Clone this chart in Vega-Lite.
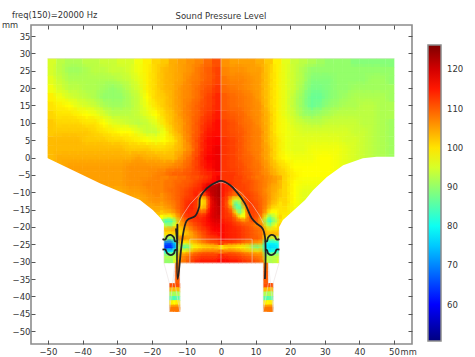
{"$schema":"https://vega.github.io/schema/vega-lite/v6.json","width":381,"height":319,"autosize":{"type":"none"},"padding":{"left":31,"top":25,"right":63,"bottom":13},"background":"white","view":{"stroke":"#8c8c8c","strokeWidth":1.6},"config":{"font":"DejaVu Sans"},"datasets":{"coarse":[
{"x":-48.8,"y":27.3,"v":95},{"x":-46.3,"y":27.3,"v":93},{"x":-43.8,"y":27.3,"v":92},{"x":-41.3,"y":27.3,"v":92},{"x":-38.8,"y":27.3,"v":93},{"x":-36.3,"y":27.3,"v":93},{"x":-33.8,"y":27.3,"v":94},{"x":-31.3,"y":27.3,"v":94},{"x":-28.8,"y":27.3,"v":95},{"x":-26.3,"y":27.3,"v":95},{"x":-23.8,"y":27.3,"v":97},{"x":-21.3,"y":27.3,"v":99},{"x":-18.8,"y":27.3,"v":101},{"x":-16.3,"y":27.3,"v":102},{"x":-13.8,"y":27.3,"v":104},{"x":-11.3,"y":27.3,"v":105},{"x":-8.8,"y":27.3,"v":106},{"x":-6.3,"y":27.3,"v":107},{"x":-3.8,"y":27.3,"v":109},{"x":-1.3,"y":27.3,"v":111},{"x":1.3,"y":27.3,"v":106},{"x":3.8,"y":27.3,"v":105},{"x":6.3,"y":27.3,"v":105},{"x":8.8,"y":27.3,"v":105},{"x":11.3,"y":27.3,"v":104},{"x":13.8,"y":27.3,"v":102},{"x":16.3,"y":27.3,"v":99},{"x":18.8,"y":27.3,"v":96},{"x":21.3,"y":27.3,"v":94},{"x":23.8,"y":27.3,"v":93},{"x":26.3,"y":27.3,"v":92},{"x":28.8,"y":27.3,"v":91},{"x":31.3,"y":27.3,"v":90},{"x":33.8,"y":27.3,"v":90},{"x":36.3,"y":27.3,"v":90},{"x":38.8,"y":27.3,"v":89},{"x":41.3,"y":27.3,"v":89},{"x":43.8,"y":27.3,"v":89},{"x":46.3,"y":27.3,"v":89},{"x":48.8,"y":27.3,"v":89},
{"x":-48.8,"y":24.8,"v":95},{"x":-46.3,"y":24.8,"v":93},{"x":-43.8,"y":24.8,"v":91},{"x":-41.3,"y":24.8,"v":91},{"x":-38.8,"y":24.8,"v":92},{"x":-36.3,"y":24.8,"v":93},{"x":-33.8,"y":24.8,"v":93},{"x":-31.3,"y":24.8,"v":94},{"x":-28.8,"y":24.8,"v":94},{"x":-26.3,"y":24.8,"v":95},{"x":-23.8,"y":24.8,"v":97},{"x":-21.3,"y":24.8,"v":99},{"x":-18.8,"y":24.8,"v":101},{"x":-16.3,"y":24.8,"v":103},{"x":-13.8,"y":24.8,"v":104},{"x":-11.3,"y":24.8,"v":105},{"x":-8.8,"y":24.8,"v":106},{"x":-6.3,"y":24.8,"v":108},{"x":-3.8,"y":24.8,"v":110},{"x":-1.3,"y":24.8,"v":112},{"x":1.3,"y":24.8,"v":107},{"x":3.8,"y":24.8,"v":106},{"x":6.3,"y":24.8,"v":106},{"x":8.8,"y":24.8,"v":105},{"x":11.3,"y":24.8,"v":105},{"x":13.8,"y":24.8,"v":102},{"x":16.3,"y":24.8,"v":99},{"x":18.8,"y":24.8,"v":96},{"x":21.3,"y":24.8,"v":94},{"x":23.8,"y":24.8,"v":92},{"x":26.3,"y":24.8,"v":90},{"x":28.8,"y":24.8,"v":90},{"x":31.3,"y":24.8,"v":90},{"x":33.8,"y":24.8,"v":90},{"x":36.3,"y":24.8,"v":90},{"x":38.8,"y":24.8,"v":90},{"x":41.3,"y":24.8,"v":90},{"x":43.8,"y":24.8,"v":90},{"x":46.3,"y":24.8,"v":90},{"x":48.8,"y":24.8,"v":90},
{"x":-48.8,"y":22.3,"v":96},{"x":-46.3,"y":22.3,"v":94},{"x":-43.8,"y":22.3,"v":92},{"x":-41.3,"y":22.3,"v":92},{"x":-38.8,"y":22.3,"v":92},{"x":-36.3,"y":22.3,"v":92},{"x":-33.8,"y":22.3,"v":92},{"x":-31.3,"y":22.3,"v":92},{"x":-28.8,"y":22.3,"v":93},{"x":-26.3,"y":22.3,"v":94},{"x":-23.8,"y":22.3,"v":96},{"x":-21.3,"y":22.3,"v":99},{"x":-18.8,"y":22.3,"v":101},{"x":-16.3,"y":22.3,"v":103},{"x":-13.8,"y":22.3,"v":104},{"x":-11.3,"y":22.3,"v":105},{"x":-8.8,"y":22.3,"v":107},{"x":-6.3,"y":22.3,"v":108},{"x":-3.8,"y":22.3,"v":110},{"x":-1.3,"y":22.3,"v":112},{"x":1.3,"y":22.3,"v":108},{"x":3.8,"y":22.3,"v":107},{"x":6.3,"y":22.3,"v":107},{"x":8.8,"y":22.3,"v":106},{"x":11.3,"y":22.3,"v":105},{"x":13.8,"y":22.3,"v":102},{"x":16.3,"y":22.3,"v":99},{"x":18.8,"y":22.3,"v":96},{"x":21.3,"y":22.3,"v":94},{"x":23.8,"y":22.3,"v":92},{"x":26.3,"y":22.3,"v":89},{"x":28.8,"y":22.3,"v":89},{"x":31.3,"y":22.3,"v":89},{"x":33.8,"y":22.3,"v":90},{"x":36.3,"y":22.3,"v":90},{"x":38.8,"y":22.3,"v":90},{"x":41.3,"y":22.3,"v":90},{"x":43.8,"y":22.3,"v":91},{"x":46.3,"y":22.3,"v":91},{"x":48.8,"y":22.3,"v":90},
{"x":-48.8,"y":19.8,"v":97},{"x":-46.3,"y":19.8,"v":95},{"x":-43.8,"y":19.8,"v":93},{"x":-41.3,"y":19.8,"v":93},{"x":-38.8,"y":19.8,"v":92},{"x":-36.3,"y":19.8,"v":92},{"x":-33.8,"y":19.8,"v":91},{"x":-31.3,"y":19.8,"v":90},{"x":-28.8,"y":19.8,"v":91},{"x":-26.3,"y":19.8,"v":93},{"x":-23.8,"y":19.8,"v":95},{"x":-21.3,"y":19.8,"v":99},{"x":-18.8,"y":19.8,"v":101},{"x":-16.3,"y":19.8,"v":103},{"x":-13.8,"y":19.8,"v":104},{"x":-11.3,"y":19.8,"v":106},{"x":-8.8,"y":19.8,"v":107},{"x":-6.3,"y":19.8,"v":109},{"x":-3.8,"y":19.8,"v":111},{"x":-1.3,"y":19.8,"v":113},{"x":1.3,"y":19.8,"v":109},{"x":3.8,"y":19.8,"v":108},{"x":6.3,"y":19.8,"v":107},{"x":8.8,"y":19.8,"v":106},{"x":11.3,"y":19.8,"v":105},{"x":13.8,"y":19.8,"v":102},{"x":16.3,"y":19.8,"v":99},{"x":18.8,"y":19.8,"v":96},{"x":21.3,"y":19.8,"v":94},{"x":23.8,"y":19.8,"v":91},{"x":26.3,"y":19.8,"v":88},{"x":28.8,"y":19.8,"v":88},{"x":31.3,"y":19.8,"v":89},{"x":33.8,"y":19.8,"v":90},{"x":36.3,"y":19.8,"v":90},{"x":38.8,"y":19.8,"v":91},{"x":41.3,"y":19.8,"v":91},{"x":43.8,"y":19.8,"v":91},{"x":46.3,"y":19.8,"v":91},{"x":48.8,"y":19.8,"v":91},
{"x":-48.8,"y":17.3,"v":99},{"x":-46.3,"y":17.3,"v":97},{"x":-43.8,"y":17.3,"v":95},{"x":-41.3,"y":17.3,"v":94},{"x":-38.8,"y":17.3,"v":93},{"x":-36.3,"y":17.3,"v":92},{"x":-33.8,"y":17.3,"v":90},{"x":-31.3,"y":17.3,"v":90},{"x":-28.8,"y":17.3,"v":90},{"x":-26.3,"y":17.3,"v":92},{"x":-23.8,"y":17.3,"v":94},{"x":-21.3,"y":17.3,"v":98},{"x":-18.8,"y":17.3,"v":101},{"x":-16.3,"y":17.3,"v":102},{"x":-13.8,"y":17.3,"v":104},{"x":-11.3,"y":17.3,"v":106},{"x":-8.8,"y":17.3,"v":107},{"x":-6.3,"y":17.3,"v":109},{"x":-3.8,"y":17.3,"v":112},{"x":-1.3,"y":17.3,"v":114},{"x":1.3,"y":17.3,"v":110},{"x":3.8,"y":17.3,"v":109},{"x":6.3,"y":17.3,"v":108},{"x":8.8,"y":17.3,"v":107},{"x":11.3,"y":17.3,"v":105},{"x":13.8,"y":17.3,"v":102},{"x":16.3,"y":17.3,"v":99},{"x":18.8,"y":17.3,"v":96},{"x":21.3,"y":17.3,"v":93},{"x":23.8,"y":17.3,"v":90},{"x":26.3,"y":17.3,"v":87},{"x":28.8,"y":17.3,"v":87},{"x":31.3,"y":17.3,"v":89},{"x":33.8,"y":17.3,"v":90},{"x":36.3,"y":17.3,"v":91},{"x":38.8,"y":17.3,"v":92},{"x":41.3,"y":17.3,"v":92},{"x":43.8,"y":17.3,"v":92},{"x":46.3,"y":17.3,"v":92},{"x":48.8,"y":17.3,"v":91},
{"x":-48.8,"y":14.8,"v":100},{"x":-46.3,"y":14.8,"v":99},{"x":-43.8,"y":14.8,"v":98},{"x":-41.3,"y":14.8,"v":96},{"x":-38.8,"y":14.8,"v":95},{"x":-36.3,"y":14.8,"v":94},{"x":-33.8,"y":14.8,"v":92},{"x":-31.3,"y":14.8,"v":91},{"x":-28.8,"y":14.8,"v":91},{"x":-26.3,"y":14.8,"v":92},{"x":-23.8,"y":14.8,"v":94},{"x":-21.3,"y":14.8,"v":97},{"x":-18.8,"y":14.8,"v":100},{"x":-16.3,"y":14.8,"v":102},{"x":-13.8,"y":14.8,"v":104},{"x":-11.3,"y":14.8,"v":106},{"x":-8.8,"y":14.8,"v":108},{"x":-6.3,"y":14.8,"v":110},{"x":-3.8,"y":14.8,"v":112},{"x":-1.3,"y":14.8,"v":114},{"x":1.3,"y":14.8,"v":110},{"x":3.8,"y":14.8,"v":109},{"x":6.3,"y":14.8,"v":108},{"x":8.8,"y":14.8,"v":107},{"x":11.3,"y":14.8,"v":106},{"x":13.8,"y":14.8,"v":102},{"x":16.3,"y":14.8,"v":99},{"x":18.8,"y":14.8,"v":96},{"x":21.3,"y":14.8,"v":93},{"x":23.8,"y":14.8,"v":90},{"x":26.3,"y":14.8,"v":87},{"x":28.8,"y":14.8,"v":88},{"x":31.3,"y":14.8,"v":90},{"x":33.8,"y":14.8,"v":91},{"x":36.3,"y":14.8,"v":92},{"x":38.8,"y":14.8,"v":92},{"x":41.3,"y":14.8,"v":93},{"x":43.8,"y":14.8,"v":93},{"x":46.3,"y":14.8,"v":92},{"x":48.8,"y":14.8,"v":92},
{"x":-48.8,"y":12.3,"v":101},{"x":-46.3,"y":12.3,"v":100},{"x":-43.8,"y":12.3,"v":100},{"x":-41.3,"y":12.3,"v":99},{"x":-38.8,"y":12.3,"v":98},{"x":-36.3,"y":12.3,"v":97},{"x":-33.8,"y":12.3,"v":95},{"x":-31.3,"y":12.3,"v":93},{"x":-28.8,"y":12.3,"v":93},{"x":-26.3,"y":12.3,"v":93},{"x":-23.8,"y":12.3,"v":94},{"x":-21.3,"y":12.3,"v":96},{"x":-18.8,"y":12.3,"v":98},{"x":-16.3,"y":12.3,"v":101},{"x":-13.8,"y":12.3,"v":103},{"x":-11.3,"y":12.3,"v":106},{"x":-8.8,"y":12.3,"v":108},{"x":-6.3,"y":12.3,"v":110},{"x":-3.8,"y":12.3,"v":113},{"x":-1.3,"y":12.3,"v":115},{"x":1.3,"y":12.3,"v":111},{"x":3.8,"y":12.3,"v":110},{"x":6.3,"y":12.3,"v":109},{"x":8.8,"y":12.3,"v":107},{"x":11.3,"y":12.3,"v":106},{"x":13.8,"y":12.3,"v":103},{"x":16.3,"y":12.3,"v":99},{"x":18.8,"y":12.3,"v":96},{"x":21.3,"y":12.3,"v":94},{"x":23.8,"y":12.3,"v":91},{"x":26.3,"y":12.3,"v":90},{"x":28.8,"y":12.3,"v":91},{"x":31.3,"y":12.3,"v":92},{"x":33.8,"y":12.3,"v":93},{"x":36.3,"y":12.3,"v":93},{"x":38.8,"y":12.3,"v":93},{"x":41.3,"y":12.3,"v":93},{"x":43.8,"y":12.3,"v":93},{"x":46.3,"y":12.3,"v":92},{"x":48.8,"y":12.3,"v":92},
{"x":-48.8,"y":9.8,"v":102},{"x":-46.3,"y":9.8,"v":101},{"x":-43.8,"y":9.8,"v":101},{"x":-41.3,"y":9.8,"v":101},{"x":-38.8,"y":9.8,"v":100},{"x":-36.3,"y":9.8,"v":100},{"x":-33.8,"y":9.8,"v":98},{"x":-31.3,"y":9.8,"v":96},{"x":-28.8,"y":9.8,"v":95},{"x":-26.3,"y":9.8,"v":94},{"x":-23.8,"y":9.8,"v":93},{"x":-21.3,"y":9.8,"v":94},{"x":-18.8,"y":9.8,"v":96},{"x":-16.3,"y":9.8,"v":100},{"x":-13.8,"y":9.8,"v":103},{"x":-11.3,"y":9.8,"v":105},{"x":-8.8,"y":9.8,"v":108},{"x":-6.3,"y":9.8,"v":111},{"x":-3.8,"y":9.8,"v":114},{"x":-1.3,"y":9.8,"v":116},{"x":1.3,"y":9.8,"v":112},{"x":3.8,"y":9.8,"v":111},{"x":6.3,"y":9.8,"v":109},{"x":8.8,"y":9.8,"v":108},{"x":11.3,"y":9.8,"v":106},{"x":13.8,"y":9.8,"v":103},{"x":16.3,"y":9.8,"v":99},{"x":18.8,"y":9.8,"v":97},{"x":21.3,"y":9.8,"v":95},{"x":23.8,"y":9.8,"v":94},{"x":26.3,"y":9.8,"v":93},{"x":28.8,"y":9.8,"v":93},{"x":31.3,"y":9.8,"v":94},{"x":33.8,"y":9.8,"v":94},{"x":36.3,"y":9.8,"v":94},{"x":38.8,"y":9.8,"v":94},{"x":41.3,"y":9.8,"v":93},{"x":43.8,"y":9.8,"v":93},{"x":46.3,"y":9.8,"v":92},{"x":48.8,"y":9.8,"v":91},
{"x":-48.8,"y":7.3,"v":102},{"x":-46.3,"y":7.3,"v":102},{"x":-43.8,"y":7.3,"v":102},{"x":-41.3,"y":7.3,"v":102},{"x":-38.8,"y":7.3,"v":102},{"x":-36.3,"y":7.3,"v":101},{"x":-33.8,"y":7.3,"v":100},{"x":-31.3,"y":7.3,"v":99},{"x":-28.8,"y":7.3,"v":98},{"x":-26.3,"y":7.3,"v":98},{"x":-23.8,"y":7.3,"v":96},{"x":-21.3,"y":7.3,"v":94},{"x":-18.8,"y":7.3,"v":94},{"x":-16.3,"y":7.3,"v":97},{"x":-13.8,"y":7.3,"v":102},{"x":-11.3,"y":7.3,"v":105},{"x":-8.8,"y":7.3,"v":108},{"x":-6.3,"y":7.3,"v":111},{"x":-3.8,"y":7.3,"v":115},{"x":-1.3,"y":7.3,"v":116},{"x":1.3,"y":7.3,"v":112},{"x":3.8,"y":7.3,"v":111},{"x":6.3,"y":7.3,"v":110},{"x":8.8,"y":7.3,"v":108},{"x":11.3,"y":7.3,"v":107},{"x":13.8,"y":7.3,"v":103},{"x":16.3,"y":7.3,"v":99},{"x":18.8,"y":7.3,"v":97},{"x":21.3,"y":7.3,"v":96},{"x":23.8,"y":7.3,"v":95},{"x":26.3,"y":7.3,"v":95},{"x":28.8,"y":7.3,"v":95},{"x":31.3,"y":7.3,"v":95},{"x":33.8,"y":7.3,"v":95},{"x":36.3,"y":7.3,"v":95},{"x":38.8,"y":7.3,"v":94},{"x":41.3,"y":7.3,"v":94},{"x":43.8,"y":7.3,"v":93},{"x":46.3,"y":7.3,"v":92},{"x":48.8,"y":7.3,"v":91},
{"x":-48.8,"y":4.8,"v":103},{"x":-46.3,"y":4.8,"v":103},{"x":-43.8,"y":4.8,"v":103},{"x":-41.3,"y":4.8,"v":103},{"x":-38.8,"y":4.8,"v":102},{"x":-36.3,"y":4.8,"v":102},{"x":-33.8,"y":4.8,"v":102},{"x":-31.3,"y":4.8,"v":101},{"x":-28.8,"y":4.8,"v":101},{"x":-26.3,"y":4.8,"v":100},{"x":-23.8,"y":4.8,"v":99},{"x":-21.3,"y":4.8,"v":98},{"x":-18.8,"y":4.8,"v":97},{"x":-16.3,"y":4.8,"v":98},{"x":-13.8,"y":4.8,"v":100},{"x":-11.3,"y":4.8,"v":104},{"x":-8.8,"y":4.8,"v":108},{"x":-6.3,"y":4.8,"v":112},{"x":-3.8,"y":4.8,"v":116},{"x":-1.3,"y":4.8,"v":117},{"x":1.3,"y":4.8,"v":113},{"x":3.8,"y":4.8,"v":112},{"x":6.3,"y":4.8,"v":110},{"x":8.8,"y":4.8,"v":108},{"x":11.3,"y":4.8,"v":107},{"x":13.8,"y":4.8,"v":103},{"x":16.3,"y":4.8,"v":100},{"x":18.8,"y":4.8,"v":97},{"x":21.3,"y":4.8,"v":96},{"x":23.8,"y":4.8,"v":96},{"x":26.3,"y":4.8,"v":96},{"x":28.8,"y":4.8,"v":96},{"x":31.3,"y":4.8,"v":96},{"x":33.8,"y":4.8,"v":96},{"x":36.3,"y":4.8,"v":95},{"x":38.8,"y":4.8,"v":95},{"x":41.3,"y":4.8,"v":94},{"x":43.8,"y":4.8,"v":93},{"x":46.3,"y":4.8,"v":92},{"x":48.8,"y":4.8,"v":91},
{"x":-48.8,"y":2.3,"v":103},{"x":-46.3,"y":2.3,"v":103},{"x":-43.8,"y":2.3,"v":103},{"x":-41.3,"y":2.3,"v":103},{"x":-38.8,"y":2.3,"v":103},{"x":-36.3,"y":2.3,"v":103},{"x":-33.8,"y":2.3,"v":103},{"x":-31.3,"y":2.3,"v":103},{"x":-28.8,"y":2.3,"v":103},{"x":-26.3,"y":2.3,"v":102},{"x":-23.8,"y":2.3,"v":102},{"x":-21.3,"y":2.3,"v":102},{"x":-18.8,"y":2.3,"v":101},{"x":-16.3,"y":2.3,"v":101},{"x":-13.8,"y":2.3,"v":102},{"x":-11.3,"y":2.3,"v":104},{"x":-8.8,"y":2.3,"v":107},{"x":-6.3,"y":2.3,"v":112},{"x":-3.8,"y":2.3,"v":116},{"x":-1.3,"y":2.3,"v":118},{"x":1.3,"y":2.3,"v":113},{"x":3.8,"y":2.3,"v":112},{"x":6.3,"y":2.3,"v":110},{"x":8.8,"y":2.3,"v":108},{"x":11.3,"y":2.3,"v":107},{"x":13.8,"y":2.3,"v":104},{"x":16.3,"y":2.3,"v":100},{"x":18.8,"y":2.3,"v":97},{"x":21.3,"y":2.3,"v":96},{"x":23.8,"y":2.3,"v":96},{"x":26.3,"y":2.3,"v":97},{"x":28.8,"y":2.3,"v":97},{"x":31.3,"y":2.3,"v":97},{"x":33.8,"y":2.3,"v":97},{"x":36.3,"y":2.3,"v":96},{"x":38.8,"y":2.3,"v":95},{"x":41.3,"y":2.3,"v":94},{"x":43.8,"y":2.3,"v":93},{"x":46.3,"y":2.3,"v":92},{"x":48.8,"y":2.3,"v":91},
{"x":-48.8,"y":-0.3,"v":103},{"x":-46.3,"y":-0.3,"v":104},{"x":-43.8,"y":-0.3,"v":104},{"x":-41.3,"y":-0.3,"v":104},{"x":-38.8,"y":-0.3,"v":104},{"x":-36.3,"y":-0.3,"v":104},{"x":-33.8,"y":-0.3,"v":104},{"x":-31.3,"y":-0.3,"v":104},{"x":-28.8,"y":-0.3,"v":104},{"x":-26.3,"y":-0.3,"v":104},{"x":-23.8,"y":-0.3,"v":105},{"x":-21.3,"y":-0.3,"v":104},{"x":-18.8,"y":-0.3,"v":104},{"x":-16.3,"y":-0.3,"v":103},{"x":-13.8,"y":-0.3,"v":103},{"x":-11.3,"y":-0.3,"v":106},{"x":-8.8,"y":-0.3,"v":109},{"x":-6.3,"y":-0.3,"v":113},{"x":-3.8,"y":-0.3,"v":117},{"x":-1.3,"y":-0.3,"v":118},{"x":1.3,"y":-0.3,"v":113},{"x":3.8,"y":-0.3,"v":112},{"x":6.3,"y":-0.3,"v":110},{"x":8.8,"y":-0.3,"v":109},{"x":11.3,"y":-0.3,"v":107},{"x":13.8,"y":-0.3,"v":104},{"x":16.3,"y":-0.3,"v":100},{"x":18.8,"y":-0.3,"v":98},{"x":21.3,"y":-0.3,"v":97},{"x":23.8,"y":-0.3,"v":97},{"x":26.3,"y":-0.3,"v":97},{"x":28.8,"y":-0.3,"v":98},{"x":31.3,"y":-0.3,"v":98},{"x":33.8,"y":-0.3,"v":97},{"x":36.3,"y":-0.3,"v":96},{"x":38.8,"y":-0.3,"v":95},{"x":41.3,"y":-0.3,"v":94},{"x":43.8,"y":-0.3,"v":93},{"x":46.3,"y":-0.3,"v":92},{"x":48.8,"y":-0.3,"v":91},
{"x":-46.3,"y":-2.8,"v":104},{"x":-43.8,"y":-2.8,"v":105},{"x":-41.3,"y":-2.8,"v":105},{"x":-38.8,"y":-2.8,"v":105},{"x":-36.3,"y":-2.8,"v":105},{"x":-33.8,"y":-2.8,"v":105},{"x":-31.3,"y":-2.8,"v":105},{"x":-28.8,"y":-2.8,"v":105},{"x":-26.3,"y":-2.8,"v":106},{"x":-23.8,"y":-2.8,"v":106},{"x":-21.3,"y":-2.8,"v":106},{"x":-18.8,"y":-2.8,"v":106},{"x":-16.3,"y":-2.8,"v":106},{"x":-13.8,"y":-2.8,"v":107},{"x":-11.3,"y":-2.8,"v":108},{"x":-8.8,"y":-2.8,"v":110},{"x":-6.3,"y":-2.8,"v":113},{"x":-3.8,"y":-2.8,"v":116},{"x":-1.3,"y":-2.8,"v":118},{"x":1.3,"y":-2.8,"v":113},{"x":3.8,"y":-2.8,"v":112},{"x":6.3,"y":-2.8,"v":111},{"x":8.8,"y":-2.8,"v":109},{"x":11.3,"y":-2.8,"v":108},{"x":13.8,"y":-2.8,"v":105},{"x":16.3,"y":-2.8,"v":102},{"x":18.8,"y":-2.8,"v":100},{"x":21.3,"y":-2.8,"v":98},{"x":23.8,"y":-2.8,"v":98},{"x":26.3,"y":-2.8,"v":98},{"x":28.8,"y":-2.8,"v":98},{"x":31.3,"y":-2.8,"v":98},{"x":33.8,"y":-2.8,"v":97},{"x":36.3,"y":-2.8,"v":96},{"x":38.8,"y":-2.8,"v":95},
{"x":-41.3,"y":-5.3,"v":105},{"x":-38.8,"y":-5.3,"v":105},{"x":-36.3,"y":-5.3,"v":105},{"x":-33.8,"y":-5.3,"v":105},{"x":-31.3,"y":-5.3,"v":105},{"x":-28.8,"y":-5.3,"v":105},{"x":-26.3,"y":-5.3,"v":106},{"x":-23.8,"y":-5.3,"v":106},{"x":-21.3,"y":-5.3,"v":106},{"x":-18.8,"y":-5.3,"v":107},{"x":-16.3,"y":-5.3,"v":108},{"x":-13.8,"y":-5.3,"v":110},{"x":-11.3,"y":-5.3,"v":110},{"x":-8.8,"y":-5.3,"v":111},{"x":-6.3,"y":-5.3,"v":112},{"x":-3.8,"y":-5.3,"v":114},{"x":-1.3,"y":-5.3,"v":116},{"x":1.3,"y":-5.3,"v":113},{"x":3.8,"y":-5.3,"v":113},{"x":6.3,"y":-5.3,"v":111},{"x":8.8,"y":-5.3,"v":110},{"x":11.3,"y":-5.3,"v":108},{"x":13.8,"y":-5.3,"v":106},{"x":16.3,"y":-5.3,"v":103},{"x":18.8,"y":-5.3,"v":101},{"x":21.3,"y":-5.3,"v":99},{"x":23.8,"y":-5.3,"v":98},{"x":26.3,"y":-5.3,"v":98},{"x":28.8,"y":-5.3,"v":98},{"x":31.3,"y":-5.3,"v":98},{"x":33.8,"y":-5.3,"v":97},
{"x":-36.3,"y":-7.8,"v":105},{"x":-33.8,"y":-7.8,"v":105},{"x":-31.3,"y":-7.8,"v":105},{"x":-28.8,"y":-7.8,"v":105},{"x":-26.3,"y":-7.8,"v":106},{"x":-23.8,"y":-7.8,"v":106},{"x":-21.3,"y":-7.8,"v":107},{"x":-18.8,"y":-7.8,"v":107},{"x":18.8,"y":-7.8,"v":101},{"x":21.3,"y":-7.8,"v":98},{"x":23.8,"y":-7.8,"v":97},{"x":26.3,"y":-7.8,"v":97},{"x":28.8,"y":-7.8,"v":97},
{"x":-31.3,"y":-10.3,"v":104},{"x":-28.8,"y":-10.3,"v":104},{"x":-26.3,"y":-10.3,"v":105},{"x":-23.8,"y":-10.3,"v":105},{"x":-21.3,"y":-10.3,"v":106},{"x":-18.8,"y":-10.3,"v":107},{"x":18.8,"y":-10.3,"v":101},{"x":21.3,"y":-10.3,"v":98},{"x":23.8,"y":-10.3,"v":96},{"x":26.3,"y":-10.3,"v":96},
{"x":-23.8,"y":-12.8,"v":104},{"x":-21.3,"y":-12.8,"v":105},{"x":-18.8,"y":-12.8,"v":106},{"x":18.8,"y":-12.8,"v":101},{"x":21.3,"y":-12.8,"v":98},{"x":23.8,"y":-12.8,"v":96},
{"x":-21.3,"y":-15.3,"v":104},{"x":-18.8,"y":-15.3,"v":104},{"x":18.8,"y":-15.3,"v":100},{"x":21.3,"y":-15.3,"v":97},
{"x":-18.8,"y":-17.8,"v":100},{"x":18.8,"y":-17.8,"v":99}
],"fine":[
{"x":-16.9,"y":-5.9,"v":107},{"x":-15.6,"y":-5.9,"v":107},{"x":-14.4,"y":-5.9,"v":108},{"x":-13.1,"y":-5.9,"v":108},{"x":-11.9,"y":-5.9,"v":109},{"x":-10.6,"y":-5.9,"v":109},{"x":-9.4,"y":-5.9,"v":110},{"x":-8.1,"y":-5.9,"v":111},{"x":-6.9,"y":-5.9,"v":111},{"x":-5.6,"y":-5.9,"v":112},{"x":-4.4,"y":-5.9,"v":113},{"x":-3.1,"y":-5.9,"v":114},{"x":-1.9,"y":-5.9,"v":116},{"x":-0.6,"y":-5.9,"v":118},{"x":0.6,"y":-5.9,"v":113},{"x":1.9,"y":-5.9,"v":113},{"x":3.1,"y":-5.9,"v":113},{"x":4.4,"y":-5.9,"v":112},{"x":5.6,"y":-5.9,"v":112},{"x":6.9,"y":-5.9,"v":111},{"x":8.1,"y":-5.9,"v":110},{"x":9.4,"y":-5.9,"v":109},{"x":10.6,"y":-5.9,"v":108},{"x":11.9,"y":-5.9,"v":108},{"x":13.1,"y":-5.9,"v":107},{"x":14.4,"y":-5.9,"v":106},{"x":15.6,"y":-5.9,"v":105},{"x":16.9,"y":-5.9,"v":104},
{"x":-16.9,"y":-7.2,"v":107},{"x":-15.6,"y":-7.2,"v":108},{"x":-14.4,"y":-7.2,"v":108},{"x":-13.1,"y":-7.2,"v":109},{"x":-11.9,"y":-7.2,"v":109},{"x":-10.6,"y":-7.2,"v":110},{"x":-9.4,"y":-7.2,"v":110},{"x":-8.1,"y":-7.2,"v":111},{"x":-6.9,"y":-7.2,"v":112},{"x":-5.6,"y":-7.2,"v":113},{"x":-4.4,"y":-7.2,"v":114},{"x":-3.1,"y":-7.2,"v":115},{"x":-1.9,"y":-7.2,"v":117},{"x":-0.6,"y":-7.2,"v":119},{"x":0.6,"y":-7.2,"v":114},{"x":1.9,"y":-7.2,"v":113},{"x":3.1,"y":-7.2,"v":113},{"x":4.4,"y":-7.2,"v":112},{"x":5.6,"y":-7.2,"v":112},{"x":6.9,"y":-7.2,"v":111},{"x":8.1,"y":-7.2,"v":111},{"x":9.4,"y":-7.2,"v":110},{"x":10.6,"y":-7.2,"v":109},{"x":11.9,"y":-7.2,"v":108},{"x":13.1,"y":-7.2,"v":107},{"x":14.4,"y":-7.2,"v":106},{"x":15.6,"y":-7.2,"v":105},{"x":16.9,"y":-7.2,"v":103},
{"x":-16.9,"y":-8.4,"v":107},{"x":-15.6,"y":-8.4,"v":108},{"x":-14.4,"y":-8.4,"v":108},{"x":-13.1,"y":-8.4,"v":109},{"x":-11.9,"y":-8.4,"v":110},{"x":-10.6,"y":-8.4,"v":110},{"x":-9.4,"y":-8.4,"v":111},{"x":-8.1,"y":-8.4,"v":112},{"x":-6.9,"y":-8.4,"v":113},{"x":-5.6,"y":-8.4,"v":114},{"x":-4.4,"y":-8.4,"v":118},{"x":-3.1,"y":-8.4,"v":120},{"x":-1.9,"y":-8.4,"v":122},{"x":-0.6,"y":-8.4,"v":123},{"x":0.6,"y":-8.4,"v":115},{"x":1.9,"y":-8.4,"v":114},{"x":3.1,"y":-8.4,"v":113},{"x":4.4,"y":-8.4,"v":112},{"x":5.6,"y":-8.4,"v":112},{"x":6.9,"y":-8.4,"v":112},{"x":8.1,"y":-8.4,"v":111},{"x":9.4,"y":-8.4,"v":110},{"x":10.6,"y":-8.4,"v":109},{"x":11.9,"y":-8.4,"v":108},{"x":13.1,"y":-8.4,"v":107},{"x":14.4,"y":-8.4,"v":105},{"x":15.6,"y":-8.4,"v":104},{"x":16.9,"y":-8.4,"v":103},
{"x":-16.9,"y":-9.7,"v":107},{"x":-15.6,"y":-9.7,"v":108},{"x":-14.4,"y":-9.7,"v":109},{"x":-13.1,"y":-9.7,"v":109},{"x":-11.9,"y":-9.7,"v":110},{"x":-10.6,"y":-9.7,"v":111},{"x":-9.4,"y":-9.7,"v":112},{"x":-8.1,"y":-9.7,"v":113},{"x":-6.9,"y":-9.7,"v":114},{"x":-5.6,"y":-9.7,"v":114},{"x":-4.4,"y":-9.7,"v":119},{"x":-3.1,"y":-9.7,"v":121},{"x":-1.9,"y":-9.7,"v":122},{"x":-0.6,"y":-9.7,"v":123},{"x":0.6,"y":-9.7,"v":115},{"x":1.9,"y":-9.7,"v":114},{"x":3.1,"y":-9.7,"v":112},{"x":4.4,"y":-9.7,"v":111},{"x":5.6,"y":-9.7,"v":112},{"x":6.9,"y":-9.7,"v":112},{"x":8.1,"y":-9.7,"v":111},{"x":9.4,"y":-9.7,"v":110},{"x":10.6,"y":-9.7,"v":109},{"x":11.9,"y":-9.7,"v":108},{"x":13.1,"y":-9.7,"v":106},{"x":14.4,"y":-9.7,"v":105},{"x":15.6,"y":-9.7,"v":104},{"x":16.9,"y":-9.7,"v":102},
{"x":-16.9,"y":-10.9,"v":106},{"x":-15.6,"y":-10.9,"v":107},{"x":-14.4,"y":-10.9,"v":108},{"x":-13.1,"y":-10.9,"v":109},{"x":-11.9,"y":-10.9,"v":110},{"x":-10.6,"y":-10.9,"v":111},{"x":-9.4,"y":-10.9,"v":112},{"x":-8.1,"y":-10.9,"v":113},{"x":-6.9,"y":-10.9,"v":115},{"x":-5.6,"y":-10.9,"v":110},{"x":-4.4,"y":-10.9,"v":112},{"x":-3.1,"y":-10.9,"v":119},{"x":-1.9,"y":-10.9,"v":122},{"x":-0.6,"y":-10.9,"v":123},{"x":0.6,"y":-10.9,"v":115},{"x":1.9,"y":-10.9,"v":113},{"x":3.1,"y":-10.9,"v":110},{"x":4.4,"y":-10.9,"v":108},{"x":5.6,"y":-10.9,"v":109},{"x":6.9,"y":-10.9,"v":112},{"x":8.1,"y":-10.9,"v":112},{"x":9.4,"y":-10.9,"v":111},{"x":10.6,"y":-10.9,"v":110},{"x":11.9,"y":-10.9,"v":108},{"x":13.1,"y":-10.9,"v":107},{"x":14.4,"y":-10.9,"v":105},{"x":15.6,"y":-10.9,"v":103},{"x":16.9,"y":-10.9,"v":102},
{"x":-16.9,"y":-12.2,"v":106},{"x":-15.6,"y":-12.2,"v":107},{"x":-14.4,"y":-12.2,"v":108},{"x":-13.1,"y":-12.2,"v":109},{"x":-11.9,"y":-12.2,"v":110},{"x":-10.6,"y":-12.2,"v":112},{"x":-9.4,"y":-12.2,"v":113},{"x":-8.1,"y":-12.2,"v":113},{"x":-6.9,"y":-12.2,"v":113},{"x":-5.6,"y":-12.2,"v":100},{"x":-4.4,"y":-12.2,"v":104},{"x":-3.1,"y":-12.2,"v":115},{"x":-1.9,"y":-12.2,"v":121},{"x":-0.6,"y":-12.2,"v":122},{"x":0.6,"y":-12.2,"v":114},{"x":1.9,"y":-12.2,"v":112},{"x":3.1,"y":-12.2,"v":102},{"x":4.4,"y":-12.2,"v":95},{"x":5.6,"y":-12.2,"v":100},{"x":6.9,"y":-12.2,"v":111},{"x":8.1,"y":-12.2,"v":112},{"x":9.4,"y":-12.2,"v":111},{"x":10.6,"y":-12.2,"v":110},{"x":11.9,"y":-12.2,"v":109},{"x":13.1,"y":-12.2,"v":107},{"x":14.4,"y":-12.2,"v":105},{"x":15.6,"y":-12.2,"v":103},{"x":16.9,"y":-12.2,"v":101},
{"x":-16.9,"y":-13.4,"v":105},{"x":-15.6,"y":-13.4,"v":106},{"x":-14.4,"y":-13.4,"v":107},{"x":-13.1,"y":-13.4,"v":108},{"x":-11.9,"y":-13.4,"v":110},{"x":-10.6,"y":-13.4,"v":112},{"x":-9.4,"y":-13.4,"v":114},{"x":-8.1,"y":-13.4,"v":114},{"x":-6.9,"y":-13.4,"v":112},{"x":-5.6,"y":-13.4,"v":99},{"x":-4.4,"y":-13.4,"v":103},{"x":-3.1,"y":-13.4,"v":115},{"x":-1.9,"y":-13.4,"v":120},{"x":-0.6,"y":-13.4,"v":122},{"x":0.6,"y":-13.4,"v":114},{"x":1.9,"y":-13.4,"v":111},{"x":3.1,"y":-13.4,"v":100},{"x":4.4,"y":-13.4,"v":84},{"x":5.6,"y":-13.4,"v":90},{"x":6.9,"y":-13.4,"v":108},{"x":8.1,"y":-13.4,"v":113},{"x":9.4,"y":-13.4,"v":112},{"x":10.6,"y":-13.4,"v":111},{"x":11.9,"y":-13.4,"v":109},{"x":13.1,"y":-13.4,"v":107},{"x":14.4,"y":-13.4,"v":104},{"x":15.6,"y":-13.4,"v":102},{"x":16.9,"y":-13.4,"v":100},
{"x":-16.9,"y":-14.7,"v":104},{"x":-15.6,"y":-14.7,"v":105},{"x":-14.4,"y":-14.7,"v":106},{"x":-13.1,"y":-14.7,"v":108},{"x":-11.9,"y":-14.7,"v":110},{"x":-10.6,"y":-14.7,"v":112},{"x":-9.4,"y":-14.7,"v":114},{"x":-8.1,"y":-14.7,"v":114},{"x":-6.9,"y":-14.7,"v":112},{"x":-5.6,"y":-14.7,"v":102},{"x":-4.4,"y":-14.7,"v":105},{"x":-3.1,"y":-14.7,"v":116},{"x":-1.9,"y":-14.7,"v":120},{"x":-0.6,"y":-14.7,"v":121},{"x":0.6,"y":-14.7,"v":114},{"x":1.9,"y":-14.7,"v":112},{"x":3.1,"y":-14.7,"v":106},{"x":4.4,"y":-14.7,"v":88},{"x":5.6,"y":-14.7,"v":85},{"x":6.9,"y":-14.7,"v":102},{"x":8.1,"y":-14.7,"v":112},{"x":9.4,"y":-14.7,"v":112},{"x":10.6,"y":-14.7,"v":111},{"x":11.9,"y":-14.7,"v":109},{"x":13.1,"y":-14.7,"v":106},{"x":14.4,"y":-14.7,"v":102},{"x":15.6,"y":-14.7,"v":100},{"x":16.9,"y":-14.7,"v":100},
{"x":-16.9,"y":-15.9,"v":102},{"x":-15.6,"y":-15.9,"v":103},{"x":-14.4,"y":-15.9,"v":104},{"x":-13.1,"y":-15.9,"v":106},{"x":-11.9,"y":-15.9,"v":109},{"x":-10.6,"y":-15.9,"v":112},{"x":-9.4,"y":-15.9,"v":114},{"x":-8.1,"y":-15.9,"v":113},{"x":-6.9,"y":-15.9,"v":113},{"x":-5.6,"y":-15.9,"v":109},{"x":-4.4,"y":-15.9,"v":111},{"x":-3.1,"y":-15.9,"v":117},{"x":-1.9,"y":-15.9,"v":120},{"x":-0.6,"y":-15.9,"v":121},{"x":0.6,"y":-15.9,"v":114},{"x":1.9,"y":-15.9,"v":113},{"x":3.1,"y":-15.9,"v":110},{"x":4.4,"y":-15.9,"v":100},{"x":5.6,"y":-15.9,"v":88},{"x":6.9,"y":-15.9,"v":98},{"x":8.1,"y":-15.9,"v":112},{"x":9.4,"y":-15.9,"v":112},{"x":10.6,"y":-15.9,"v":111},{"x":11.9,"y":-15.9,"v":109},{"x":13.1,"y":-15.9,"v":104},{"x":14.4,"y":-15.9,"v":98},{"x":15.6,"y":-15.9,"v":98},{"x":16.9,"y":-15.9,"v":100},
{"x":-16.9,"y":-17.2,"v":98},{"x":-15.6,"y":-17.2,"v":97},{"x":-14.4,"y":-17.2,"v":98},{"x":-13.1,"y":-17.2,"v":102},{"x":-11.9,"y":-17.2,"v":107},{"x":-10.6,"y":-17.2,"v":111},{"x":-9.4,"y":-17.2,"v":113},{"x":-8.1,"y":-17.2,"v":113},{"x":-6.9,"y":-17.2,"v":114},{"x":-5.6,"y":-17.2,"v":113},{"x":-4.4,"y":-17.2,"v":115},{"x":-3.1,"y":-17.2,"v":118},{"x":-1.9,"y":-17.2,"v":120},{"x":-0.6,"y":-17.2,"v":120},{"x":0.6,"y":-17.2,"v":114},{"x":1.9,"y":-17.2,"v":113},{"x":3.1,"y":-17.2,"v":112},{"x":4.4,"y":-17.2,"v":108},{"x":5.6,"y":-17.2,"v":98},{"x":6.9,"y":-17.2,"v":98},{"x":8.1,"y":-17.2,"v":110},{"x":9.4,"y":-17.2,"v":112},{"x":10.6,"y":-17.2,"v":110},{"x":11.9,"y":-17.2,"v":107},{"x":13.1,"y":-17.2,"v":96},{"x":14.4,"y":-17.2,"v":88},{"x":15.6,"y":-17.2,"v":95},{"x":16.9,"y":-17.2,"v":101},
{"x":-16.9,"y":-18.4,"v":90},{"x":-15.6,"y":-18.4,"v":84},{"x":-14.4,"y":-18.4,"v":84},{"x":-13.1,"y":-18.4,"v":92},{"x":-11.9,"y":-18.4,"v":104},{"x":-10.6,"y":-18.4,"v":108},{"x":-9.4,"y":-18.4,"v":110},{"x":-8.1,"y":-18.4,"v":112},{"x":-6.9,"y":-18.4,"v":113},{"x":-5.6,"y":-18.4,"v":114},{"x":-4.4,"y":-18.4,"v":115},{"x":-3.1,"y":-18.4,"v":117},{"x":-1.9,"y":-18.4,"v":119},{"x":-0.6,"y":-18.4,"v":119},{"x":0.6,"y":-18.4,"v":115},{"x":1.9,"y":-18.4,"v":114},{"x":3.1,"y":-18.4,"v":113},{"x":4.4,"y":-18.4,"v":111},{"x":5.6,"y":-18.4,"v":109},{"x":6.9,"y":-18.4,"v":107},{"x":8.1,"y":-18.4,"v":109},{"x":9.4,"y":-18.4,"v":111},{"x":10.6,"y":-18.4,"v":109},{"x":11.9,"y":-18.4,"v":103},{"x":13.1,"y":-18.4,"v":90},{"x":14.4,"y":-18.4,"v":82},{"x":15.6,"y":-18.4,"v":92},{"x":16.9,"y":-18.4,"v":100},
{"x":-16.9,"y":-19.7,"v":98},{"x":-15.6,"y":-19.7,"v":92},{"x":-14.4,"y":-19.7,"v":90},{"x":-13.1,"y":-19.7,"v":97},{"x":-11.9,"y":-19.7,"v":104},{"x":-10.6,"y":-19.7,"v":106},{"x":-9.4,"y":-19.7,"v":108},{"x":-8.1,"y":-19.7,"v":110},{"x":-6.9,"y":-19.7,"v":112},{"x":-5.6,"y":-19.7,"v":113},{"x":-4.4,"y":-19.7,"v":115},{"x":-3.1,"y":-19.7,"v":116},{"x":-1.9,"y":-19.7,"v":118},{"x":-0.6,"y":-19.7,"v":118},{"x":0.6,"y":-19.7,"v":116},{"x":1.9,"y":-19.7,"v":115},{"x":3.1,"y":-19.7,"v":114},{"x":4.4,"y":-19.7,"v":113},{"x":5.6,"y":-19.7,"v":112},{"x":6.9,"y":-19.7,"v":111},{"x":8.1,"y":-19.7,"v":110},{"x":9.4,"y":-19.7,"v":108},{"x":10.6,"y":-19.7,"v":106},{"x":11.9,"y":-19.7,"v":108},{"x":13.1,"y":-19.7,"v":95},{"x":14.4,"y":-19.7,"v":90},{"x":15.6,"y":-19.7,"v":98},{"x":16.9,"y":-19.7,"v":102},
{"x":-16.9,"y":-20.9,"v":102},{"x":-15.6,"y":-20.9,"v":103},{"x":-14.4,"y":-20.9,"v":104},{"x":-13.1,"y":-20.9,"v":105},{"x":-11.9,"y":-20.9,"v":100},{"x":-10.6,"y":-20.9,"v":103},{"x":-9.4,"y":-20.9,"v":105},{"x":-8.1,"y":-20.9,"v":108},{"x":-6.9,"y":-20.9,"v":110},{"x":-5.6,"y":-20.9,"v":112},{"x":-4.4,"y":-20.9,"v":113},{"x":-3.1,"y":-20.9,"v":115},{"x":-1.9,"y":-20.9,"v":117},{"x":-0.6,"y":-20.9,"v":117},{"x":0.6,"y":-20.9,"v":116},{"x":1.9,"y":-20.9,"v":115},{"x":3.1,"y":-20.9,"v":114},{"x":4.4,"y":-20.9,"v":114},{"x":5.6,"y":-20.9,"v":113},{"x":6.9,"y":-20.9,"v":112},{"x":8.1,"y":-20.9,"v":111},{"x":9.4,"y":-20.9,"v":110},{"x":10.6,"y":-20.9,"v":109},{"x":11.9,"y":-20.9,"v":108},{"x":13.1,"y":-20.9,"v":102},{"x":14.4,"y":-20.9,"v":100},{"x":15.6,"y":-20.9,"v":101},{"x":16.9,"y":-20.9,"v":102},
{"x":-16.9,"y":-22.2,"v":99},{"x":-15.6,"y":-22.2,"v":100},{"x":-14.4,"y":-22.2,"v":100},{"x":-13.1,"y":-22.2,"v":101},{"x":-11.9,"y":-22.2,"v":100},{"x":-10.6,"y":-22.2,"v":101},{"x":-9.4,"y":-22.2,"v":103},{"x":-8.1,"y":-22.2,"v":105},{"x":-6.9,"y":-22.2,"v":108},{"x":-5.6,"y":-22.2,"v":110},{"x":-4.4,"y":-22.2,"v":112},{"x":-3.1,"y":-22.2,"v":114},{"x":-1.9,"y":-22.2,"v":115},{"x":-0.6,"y":-22.2,"v":116},{"x":0.6,"y":-22.2,"v":116},{"x":1.9,"y":-22.2,"v":115},{"x":3.1,"y":-22.2,"v":114},{"x":4.4,"y":-22.2,"v":114},{"x":5.6,"y":-22.2,"v":113},{"x":6.9,"y":-22.2,"v":112},{"x":8.1,"y":-22.2,"v":111},{"x":9.4,"y":-22.2,"v":110},{"x":10.6,"y":-22.2,"v":109},{"x":11.9,"y":-22.2,"v":108},{"x":13.1,"y":-22.2,"v":104},{"x":14.4,"y":-22.2,"v":104},{"x":15.6,"y":-22.2,"v":104},{"x":16.9,"y":-22.2,"v":103},
{"x":-16.9,"y":-23.4,"v":92},{"x":-15.6,"y":-23.4,"v":90},{"x":-14.4,"y":-23.4,"v":88},{"x":-13.1,"y":-23.4,"v":92},{"x":-11.9,"y":-23.4,"v":108},{"x":-10.6,"y":-23.4,"v":107},{"x":-9.4,"y":-23.4,"v":105},{"x":-8.1,"y":-23.4,"v":105},{"x":-6.9,"y":-23.4,"v":107},{"x":-5.6,"y":-23.4,"v":109},{"x":-4.4,"y":-23.4,"v":111},{"x":-3.1,"y":-23.4,"v":112},{"x":-1.9,"y":-23.4,"v":113},{"x":-0.6,"y":-23.4,"v":114},{"x":0.6,"y":-23.4,"v":116},{"x":1.9,"y":-23.4,"v":115},{"x":3.1,"y":-23.4,"v":114},{"x":4.4,"y":-23.4,"v":114},{"x":5.6,"y":-23.4,"v":113},{"x":6.9,"y":-23.4,"v":112},{"x":8.1,"y":-23.4,"v":111},{"x":9.4,"y":-23.4,"v":110},{"x":10.6,"y":-23.4,"v":110},{"x":11.9,"y":-23.4,"v":108},{"x":13.1,"y":-23.4,"v":96},{"x":14.4,"y":-23.4,"v":92},{"x":15.6,"y":-23.4,"v":94},{"x":16.9,"y":-23.4,"v":94},
{"x":-16.9,"y":-24.7,"v":75},{"x":-15.6,"y":-24.7,"v":68},{"x":-14.4,"y":-24.7,"v":68},{"x":-13.1,"y":-24.7,"v":77},{"x":-11.9,"y":-24.7,"v":103},{"x":-10.6,"y":-24.7,"v":98},{"x":-9.4,"y":-24.7,"v":100},{"x":-8.1,"y":-24.7,"v":102},{"x":-6.9,"y":-24.7,"v":104},{"x":-5.6,"y":-24.7,"v":106},{"x":-4.4,"y":-24.7,"v":108},{"x":-3.1,"y":-24.7,"v":110},{"x":-1.9,"y":-24.7,"v":111},{"x":-0.6,"y":-24.7,"v":112},{"x":0.6,"y":-24.7,"v":112},{"x":1.9,"y":-24.7,"v":112},{"x":3.1,"y":-24.7,"v":112},{"x":4.4,"y":-24.7,"v":111},{"x":5.6,"y":-24.7,"v":110},{"x":6.9,"y":-24.7,"v":108},{"x":8.1,"y":-24.7,"v":107},{"x":9.4,"y":-24.7,"v":106},{"x":10.6,"y":-24.7,"v":105},{"x":11.9,"y":-24.7,"v":104},{"x":13.1,"y":-24.7,"v":80},{"x":14.4,"y":-24.7,"v":79},{"x":15.6,"y":-24.7,"v":80},{"x":16.9,"y":-24.7,"v":82},
{"x":-16.9,"y":-25.9,"v":72},{"x":-15.6,"y":-25.9,"v":63},{"x":-14.4,"y":-25.9,"v":63},{"x":-13.1,"y":-25.9,"v":74},{"x":-11.9,"y":-25.9,"v":96},{"x":-10.6,"y":-25.9,"v":84},{"x":-9.4,"y":-25.9,"v":88},{"x":-8.1,"y":-25.9,"v":97},{"x":-6.9,"y":-25.9,"v":99},{"x":-5.6,"y":-25.9,"v":100},{"x":-4.4,"y":-25.9,"v":101},{"x":-3.1,"y":-25.9,"v":101},{"x":-1.9,"y":-25.9,"v":102},{"x":-0.6,"y":-25.9,"v":102},{"x":0.6,"y":-25.9,"v":100},{"x":1.9,"y":-25.9,"v":100},{"x":3.1,"y":-25.9,"v":100},{"x":4.4,"y":-25.9,"v":99},{"x":5.6,"y":-25.9,"v":98},{"x":6.9,"y":-25.9,"v":97},{"x":8.1,"y":-25.9,"v":95},{"x":9.4,"y":-25.9,"v":90},{"x":10.6,"y":-25.9,"v":88},{"x":11.9,"y":-25.9,"v":92},{"x":13.1,"y":-25.9,"v":78},{"x":14.4,"y":-25.9,"v":76},{"x":15.6,"y":-25.9,"v":77},{"x":16.9,"y":-25.9,"v":80},
{"x":-16.9,"y":-27.2,"v":82},{"x":-15.6,"y":-27.2,"v":80},{"x":-14.4,"y":-27.2,"v":80},{"x":-13.1,"y":-27.2,"v":84},{"x":-11.9,"y":-27.2,"v":103},{"x":-10.6,"y":-27.2,"v":98},{"x":-9.4,"y":-27.2,"v":101},{"x":-8.1,"y":-27.2,"v":104},{"x":-6.9,"y":-27.2,"v":106},{"x":-5.6,"y":-27.2,"v":107},{"x":-4.4,"y":-27.2,"v":108},{"x":-3.1,"y":-27.2,"v":108},{"x":-1.9,"y":-27.2,"v":108},{"x":-0.6,"y":-27.2,"v":108},{"x":0.6,"y":-27.2,"v":108},{"x":1.9,"y":-27.2,"v":108},{"x":3.1,"y":-27.2,"v":108},{"x":4.4,"y":-27.2,"v":107},{"x":5.6,"y":-27.2,"v":106},{"x":6.9,"y":-27.2,"v":104},{"x":8.1,"y":-27.2,"v":103},{"x":9.4,"y":-27.2,"v":102},{"x":10.6,"y":-27.2,"v":101},{"x":11.9,"y":-27.2,"v":103},{"x":13.1,"y":-27.2,"v":82},{"x":14.4,"y":-27.2,"v":80},{"x":15.6,"y":-27.2,"v":82},{"x":16.9,"y":-27.2,"v":85},
{"x":-16.9,"y":-28.4,"v":93},{"x":-15.6,"y":-28.4,"v":92},{"x":-14.4,"y":-28.4,"v":92},{"x":-13.1,"y":-28.4,"v":94},{"x":-11.9,"y":-28.4,"v":106},{"x":-10.6,"y":-28.4,"v":107},{"x":-9.4,"y":-28.4,"v":109},{"x":-8.1,"y":-28.4,"v":111},{"x":-6.9,"y":-28.4,"v":112},{"x":-5.6,"y":-28.4,"v":113},{"x":-4.4,"y":-28.4,"v":113},{"x":-3.1,"y":-28.4,"v":113},{"x":-1.9,"y":-28.4,"v":113},{"x":-0.6,"y":-28.4,"v":114},{"x":0.6,"y":-28.4,"v":114},{"x":1.9,"y":-28.4,"v":114},{"x":3.1,"y":-28.4,"v":113},{"x":4.4,"y":-28.4,"v":113},{"x":5.6,"y":-28.4,"v":112},{"x":6.9,"y":-28.4,"v":111},{"x":8.1,"y":-28.4,"v":110},{"x":9.4,"y":-28.4,"v":109},{"x":10.6,"y":-28.4,"v":108},{"x":11.9,"y":-28.4,"v":107},{"x":13.1,"y":-28.4,"v":93},{"x":14.4,"y":-28.4,"v":92},{"x":15.6,"y":-28.4,"v":93},{"x":16.9,"y":-28.4,"v":94},
{"x":-16.9,"y":-29.7,"v":92},{"x":-15.6,"y":-29.7,"v":90},{"x":-14.4,"y":-29.7,"v":90},{"x":-13.1,"y":-29.7,"v":95},{"x":-11.9,"y":-29.7,"v":107},{"x":-10.6,"y":-29.7,"v":108},{"x":-9.4,"y":-29.7,"v":110},{"x":-8.1,"y":-29.7,"v":112},{"x":-6.9,"y":-29.7,"v":114},{"x":-5.6,"y":-29.7,"v":115},{"x":-4.4,"y":-29.7,"v":115},{"x":-3.1,"y":-29.7,"v":115},{"x":-1.9,"y":-29.7,"v":115},{"x":-0.6,"y":-29.7,"v":116},{"x":0.6,"y":-29.7,"v":116},{"x":1.9,"y":-29.7,"v":116},{"x":3.1,"y":-29.7,"v":115},{"x":4.4,"y":-29.7,"v":115},{"x":5.6,"y":-29.7,"v":114},{"x":6.9,"y":-29.7,"v":113},{"x":8.1,"y":-29.7,"v":112},{"x":9.4,"y":-29.7,"v":111},{"x":10.6,"y":-29.7,"v":110},{"x":11.9,"y":-29.7,"v":108},{"x":13.1,"y":-29.7,"v":94},{"x":14.4,"y":-29.7,"v":92},{"x":15.6,"y":-29.7,"v":93},{"x":16.9,"y":-29.7,"v":95},
{"x":-12.6,"y":-31,"v":108},{"x":-12.6,"y":-32.2,"v":109},{"x":-12.6,"y":-33.4,"v":110},{"x":-12.6,"y":-34.7,"v":110},{"x":-12.6,"y":-35.6,"v":110},{"x":12.9,"y":-31,"v":108},{"x":12.9,"y":-32.2,"v":109},{"x":12.9,"y":-33.4,"v":110},{"x":12.9,"y":-34.7,"v":110},{"x":12.9,"y":-35.6,"v":110},
{"x":-14.3,"y":-36.9,"v":111},{"x":-13.1,"y":-36.9,"v":111},{"x":-12.5,"y":-36.9,"v":111},{"x":12.9,"y":-36.9,"v":111},{"x":14.1,"y":-36.9,"v":111},{"x":14.4,"y":-36.9,"v":111},
{"x":-14.3,"y":-38.1,"v":103},{"x":-13.1,"y":-38.1,"v":103},{"x":-12.5,"y":-38.1,"v":103},{"x":12.9,"y":-38.1,"v":103},{"x":14.1,"y":-38.1,"v":103},{"x":14.4,"y":-38.1,"v":103},
{"x":-14.3,"y":-39.3,"v":92},{"x":-13.1,"y":-39.3,"v":91},{"x":-12.5,"y":-39.3,"v":92},{"x":12.9,"y":-39.3,"v":92},{"x":14.1,"y":-39.3,"v":91},{"x":14.4,"y":-39.3,"v":92},
{"x":-14.3,"y":-40.6,"v":86},{"x":-13.1,"y":-40.6,"v":84},{"x":-12.5,"y":-40.6,"v":86},{"x":12.9,"y":-40.6,"v":86},{"x":14.1,"y":-40.6,"v":84},{"x":14.4,"y":-40.6,"v":86},
{"x":-14.3,"y":-41.8,"v":99},{"x":-13.1,"y":-41.8,"v":98},{"x":-12.5,"y":-41.8,"v":99},{"x":12.9,"y":-41.8,"v":99},{"x":14.1,"y":-41.8,"v":98},{"x":14.4,"y":-41.8,"v":99},
{"x":-14.3,"y":-43.1,"v":105},{"x":-13.1,"y":-43.1,"v":105},{"x":-12.5,"y":-43.1,"v":105},{"x":12.9,"y":-43.1,"v":105},{"x":14.1,"y":-43.1,"v":105},{"x":14.4,"y":-43.1,"v":105},
{"x":-14.3,"y":-43.7,"v":108},{"x":-13.1,"y":-43.7,"v":108},{"x":-12.5,"y":-43.7,"v":108},{"x":12.9,"y":-43.7,"v":108},{"x":14.1,"y":-43.7,"v":108},{"x":14.4,"y":-43.7,"v":108}
]},"encoding":{"x":{"field":"x","type":"quantitative","scale":{"domain":[-54.9,55.2],"nice":false,"zero":false},"axis":null},"y":{"field":"y","type":"quantitative","scale":{"domain":[-53.7,38.18],"nice":false,"zero":false},"axis":null}},"resolve":{"axis":{"x":"independent","y":"independent"}},"layer":[
{"data":{"name":"coarse"},"mark":{"type":"rect","width":9,"height":9},"encoding":{"x":{"field":"x","type":"quantitative","scale":{"domain":[-54.9,55.2],"nice":false,"zero":false},"axis":{"orient":"bottom","values":[-50,-40,-30,-20,-10,0,10,20,30,40,50],"title":null,"grid":false,"domain":false,"tickColor":"#555","tickSize":-4,"labelFontSize":8.5,"labelColor":"#333","labelPadding":7,"labelFont":"DejaVu Sans"}},"y":{"field":"y","type":"quantitative","scale":{"domain":[-53.7,38.18],"nice":false,"zero":false},"axis":{"orient":"left","values":[-50,-45,-40,-35,-30,-25,-20,-15,-10,-5,0,5,10,15,20,25,30,35],"title":null,"grid":false,"domain":false,"tickColor":"#555","tickSize":-4,"labelFontSize":8.5,"labelColor":"#333","labelPadding":5,"labelFont":"DejaVu Sans"}},"color":{"field":"v","type":"quantitative","scale":{"domain":[50.7,60.1,79,98,116.8,126.2],"range":["#00007f","#0000ff","#00ffff","#ffff00","#ff0000","#7f0000"],"interpolate":"rgb"},"legend":{"orient":"none","legendX":397,"legendY":20,"title":null,"type":"gradient","gradientLength":296,"gradientThickness":13,"gradientStrokeColor":"#8c8c8c","gradientStrokeWidth":1.5,"values":[60,70,80,90,100,110,120],"labelFontSize":8.5,"labelColor":"#333","labelFont":"DejaVu Sans","labelOffset":6}}}},
{"data":{"name":"coarse"},"transform":[{"filter":"abs(datum.x)>3 && abs(datum.x)<47 && datum.y<25.5"}],"mark":{"type":"rect","width":15,"height":15,"fillOpacity":0.3},"encoding":{"color":{"field":"v","type":"quantitative"}}},
{"data":{"name":"fine"},"mark":{"type":"rect","width":5,"height":5},"encoding":{"color":{"field":"v","type":"quantitative"}}},
{"data":{"name":"fine"},"transform":[{"filter":"abs(datum.x)>1.5 && abs(datum.x)<16.5 && datum.y<-7 && datum.y>-29"}],"mark":{"type":"rect","width":8,"height":8,"fillOpacity":0.3},"encoding":{"color":{"field":"v","type":"quantitative"}}},
{"data":{"values":[{"x":-50.5,"y":0,"s":"L"},{"x":-35,"y":-7.4,"s":"L"},{"x":-23.4,"y":-12.2,"s":"L"},{"x":-19.7,"y":-15.1,"s":"L"},{"x":-17.5,"y":-17.4,"s":"L"},{"x":-16.5,"y":-19,"s":"L"},{"x":-16.5,"y":-21,"s":"L"}]},"mark":{"type":"area","color":"white","orient":"vertical"},"encoding":{"y2":{"datum":-31}}},
{"data":{"values":[{"x":16.8,"y":-20,"s":"R"},{"x":17.9,"y":-18,"s":"R"},{"x":22,"y":-14.3,"s":"R"},{"x":24.3,"y":-12.2,"s":"R"},{"x":26.6,"y":-9.4,"s":"R"},{"x":30.6,"y":-5.6,"s":"R"},{"x":35.3,"y":-2.2,"s":"R"},{"x":41,"y":-0.2,"s":"R"},{"x":45,"y":0.2,"s":"R"},{"x":50.5,"y":0.2,"s":"R"}]},"mark":{"type":"area","color":"white","orient":"vertical"},"encoding":{"y2":{"datum":-31}}},
{"data":{"values":[
{"g":"top","x":-50,"y":28.5},{"g":"top","x":50,"y":28.5},
{"g":"mid","x":0,"y":28.5},{"g":"mid","x":0,"y":-30.3},
{"g":"arc","x":-12.3,"y":-19},{"g":"arc","x":-11,"y":-16.5},{"g":"arc","x":-9,"y":-13.5},{"g":"arc","x":-6,"y":-10.3},{"g":"arc","x":-3,"y":-8},{"g":"arc","x":0,"y":-7},{"g":"arc","x":3,"y":-8},{"g":"arc","x":6,"y":-10.3},{"g":"arc","x":9,"y":-13.5},{"g":"arc","x":11,"y":-16.5},{"g":"arc","x":12.3,"y":-19},
{"g":"box","x":-9,"y":-30.3},{"g":"box","x":-9,"y":-23.5},{"g":"box","x":9,"y":-23.5},{"g":"box","x":9,"y":-30.3},
{"g":"base","x":-16.5,"y":-21},{"g":"base","x":-16.5,"y":-30.3},{"g":"base","x":-13.3,"y":-30.3},{"g":"base","x":-13.3,"y":-36.2},{"g":"base","x":-14.9,"y":-36.2},{"g":"base","x":-14.9,"y":-44.4},{"g":"base","x":-11.9,"y":-44.4},{"g":"base","x":-11.9,"y":-30.3},{"g":"base","x":12.2,"y":-30.3},{"g":"base","x":12.2,"y":-44.4},{"g":"base","x":15.1,"y":-44.4},{"g":"base","x":15.1,"y":-36.2},{"g":"base","x":13.7,"y":-36.2},{"g":"base","x":13.7,"y":-30.3},{"g":"base","x":16.8,"y":-30.3},{"g":"base","x":16.8,"y":-21}
]},"mark":{"type":"line","color":"#e6dcdc","strokeWidth":1,"opacity":0.55},"encoding":{"detail":{"field":"g"},"order":null}},
{"data":{"values":[
{"g":"m","x":-12.5,"y":-35},{"g":"m","x":-12.6,"y":-24.7},{"g":"m","x":-13,"y":-20.4},{"g":"m","x":-12.6,"y":-19.3},{"g":"m","x":-9.9,"y":-18.2},{"g":"m","x":-7.5,"y":-16.9},{"g":"m","x":-6.3,"y":-14.2},{"g":"m","x":-6.1,"y":-11.8},{"g":"m","x":-5.1,"y":-9.9},{"g":"m","x":-3.2,"y":-8.2},{"g":"m","x":0,"y":-6.7},{"g":"m","x":2.6,"y":-7.9},{"g":"m","x":4.5,"y":-9.9},{"g":"m","x":6.9,"y":-13.2},{"g":"m","x":8.9,"y":-17.5},{"g":"m","x":10.3,"y":-19},{"g":"m","x":12,"y":-20.4},{"g":"m","x":12.7,"y":-22.8},{"g":"m","x":12.7,"y":-35},
{"g":"a","x":-16.9,"y":-23.5},{"g":"a","x":-16.1,"y":-23.6},{"g":"a","x":-15.5,"y":-22.6},{"g":"a","x":-14.5,"y":-22.3},{"g":"a","x":-13.6,"y":-23},{"g":"a","x":-13.3,"y":-24.1},{"g":"a","x":-12.6,"y":-24.1},
{"g":"b","x":-16.9,"y":-26.5},{"g":"b","x":-16.1,"y":-26.5},{"g":"b","x":-15.5,"y":-27.6},{"g":"b","x":-14.5,"y":-28.1},{"g":"b","x":-13.6,"y":-27.6},{"g":"b","x":-13.3,"y":-26.7},{"g":"b","x":-12.6,"y":-26.5},
{"g":"c","x":16.9,"y":-23.5},{"g":"c","x":16.1,"y":-23.6},{"g":"c","x":15.5,"y":-22.6},{"g":"c","x":14.5,"y":-22.3},{"g":"c","x":13.6,"y":-23},{"g":"c","x":13.3,"y":-24.1},{"g":"c","x":12.7,"y":-24.1},
{"g":"d","x":16.9,"y":-26.5},{"g":"d","x":16.1,"y":-26.5},{"g":"d","x":15.5,"y":-27.6},{"g":"d","x":14.5,"y":-28.1},{"g":"d","x":13.6,"y":-27.6},{"g":"d","x":13.3,"y":-26.7},{"g":"d","x":12.7,"y":-26.5}
]},"mark":{"type":"line","color":"#222222","strokeWidth":1.8,"interpolate":"catmull-rom"},"encoding":{"detail":{"field":"g"},"order":null,"x":{"field":"x","type":"quantitative","scale":{"domain":[-54.9,55.2],"nice":false,"zero":false},"axis":{"orient":"top","values":[-50,-40,-30,-20,-10,0,10,20,30,40,50],"title":null,"grid":false,"domain":false,"labels":false,"tickColor":"#555","tickSize":-4}},"y":{"field":"y","type":"quantitative","scale":{"domain":[-53.7,38.18],"nice":false,"zero":false},"axis":{"orient":"right","values":[-50,-45,-40,-35,-30,-25,-20,-15,-10,-5,0,5,10,15,20,25,30,35],"title":null,"grid":false,"domain":false,"labels":false,"tickColor":"#555","tickSize":-4}}}},
{"data":{"values":[{"label":"freq(150)=20000 Hz","x":-60.4,"y":40.8,"size":"t"},{"label":"mm","x":-63.3,"y":37.9,"size":"t"},{"label":"mm","x":51.9,"y":-56.2,"size":"t"}]},"mark":{"type":"text","align":"left","baseline":"middle","fontSize":8.3,"color":"#333","font":"DejaVu Sans"},"encoding":{"text":{"field":"label"}}},
{"data":{"values":[{"label":"Sound Pressure Level","x":0,"y":40.8}]},"mark":{"type":"text","align":"center","baseline":"middle","fontSize":8.5,"color":"#333","font":"DejaVu Sans"},"encoding":{"text":{"field":"label"}}}
]}
